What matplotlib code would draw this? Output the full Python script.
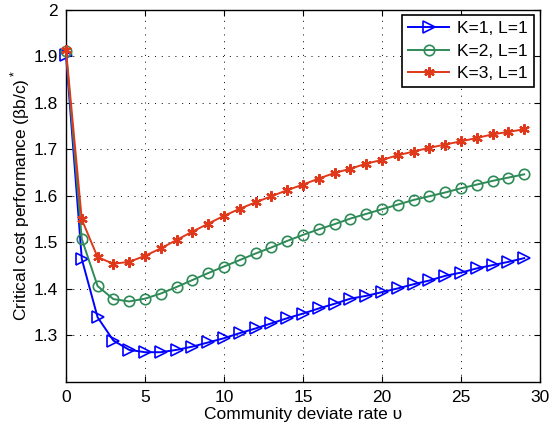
import matplotlib
matplotlib.use("Agg")
import matplotlib.pyplot as plt
import numpy as np

plt.rcParams['font.family'] = ['Liberation Sans', 'DejaVu Sans']
plt.rcParams['mathtext.fontset'] = 'custom'
plt.rcParams['mathtext.rm'] = 'Liberation Sans'

x = list(range(0, 30))
k1 = [1.903, 1.464, 1.339, 1.289, 1.269, 1.264, 1.264, 1.269, 1.276, 1.285,
      1.294, 1.305, 1.315, 1.326, 1.337, 1.347, 1.358, 1.368, 1.379, 1.385,
      1.393, 1.401, 1.410, 1.418, 1.428, 1.435, 1.444, 1.451, 1.458, 1.466]
k2 = [1.910, 1.507, 1.406, 1.378, 1.373, 1.379, 1.390, 1.404, 1.419, 1.434,
      1.448, 1.462, 1.476, 1.489, 1.503, 1.516, 1.528, 1.539, 1.551, 1.561,
      1.571, 1.581, 1.591, 1.599, 1.607, 1.616, 1.624, 1.632, 1.639, 1.646]
k3 = [1.913, 1.549, 1.468, 1.454, 1.458, 1.471, 1.487, 1.505, 1.523, 1.540,
      1.557, 1.572, 1.586, 1.599, 1.612, 1.624, 1.637, 1.649, 1.658, 1.669,
      1.677, 1.687, 1.695, 1.703, 1.710, 1.717, 1.724, 1.732, 1.737, 1.743]
labels = ['K=1, L=1', 'K=2, L=1', 'K=3, L=1']
xticks = [0, 5, 10, 15, 20, 25, 30]
yticks = [1.3, 1.4, 1.5, 1.6, 1.7, 1.8, 1.9, 2.0]
yticklabels = ['1.3', '1.4', '1.5', '1.6', '1.7', '1.8', '1.9', '2']

fig = plt.figure(figsize=(5.5, 4.32), dpi=100)
ax = fig.add_axes([66/550, 1-382/432, (540-66)/550, (382-9.5)/432])

ax.plot(x, k1, color='#0000FF', marker='>', markersize=9, markerfacecolor='none',
        markeredgewidth=1.2, linewidth=1.4, label=labels[0], clip_on=False, zorder=3)
ax.plot(x, k2, color='#2E8B57', marker='o', markersize=7.5, markerfacecolor='none',
        markeredgewidth=1.2, linewidth=1.4, label=labels[1], clip_on=False, zorder=3)
ax.plot(x, k3, color='#E0381A', marker=(6, 2, 0), markersize=7.5,
        markeredgewidth=1.6, linewidth=1.4, label=labels[2], clip_on=False, zorder=3)

ax.set_xlim(0, 30)
ax.set_ylim(1.2, 2.0)
ax.set_xticks(xticks)
ax.set_yticks(yticks)
ax.set_yticklabels(yticklabels)
ax.tick_params(direction='in', top=True, right=True, labelsize=12.5, length=4,
               width=0.8, pad=6)
ax.grid(True, linestyle=(0, (1, 6)), color='black', linewidth=0.7)
for s in ax.spines.values():
    s.set_linewidth(1.0)

ax.set_xlabel('Community deviate rate υ', fontsize=12.5, labelpad=1)
ax.set_ylabel(r'Critical cost performance (βb/c)$^*$', fontsize=12.5, labelpad=1)

leg = ax.legend(loc='upper right', fontsize=12.5, fancybox=False, framealpha=1,
                edgecolor='black', bbox_to_anchor=(534/550, 1-15/432),
                bbox_transform=fig.transFigure, borderaxespad=0, handlelength=2.4,
                borderpad=0.35, labelspacing=0.42, handletextpad=0.45)
leg.get_frame().set_linewidth(1.2)

fig.savefig('out.png', dpi=100)
